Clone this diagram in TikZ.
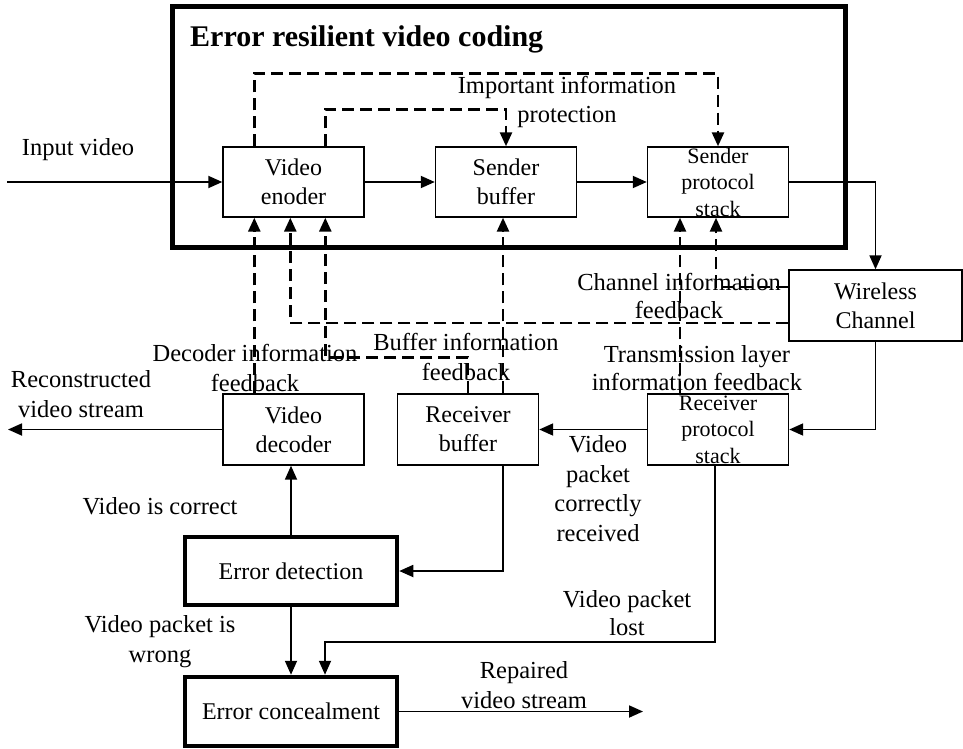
\documentclass[tikz,border=0pt]{standalone}
\usepackage{fontspec}
\setmainfont{Liberation Serif}
\usetikzlibrary{arrows.meta}

\tikzset{
  box/.style={draw, line width=1.4pt, minimum width=141pt, minimum height=70pt,
    inner sep=0pt, align=center, font=\fontsize{24}{29}\selectfont},
  stackbox/.style={box, font=\fontsize{22}{26.5}\selectfont},
  bigbox/.style={box, line width=4.5pt, minimum width=212pt, minimum height=68pt},
  lbl/.style={align=center, anchor=base, inner sep=0pt, font=\fontsize{24.5}{29.5}\selectfont},
  arr/.style={line width=1.8pt, -{Triangle[length=14pt,width=12pt]}},
  fb/.style={line width=2.6pt, dash pattern=on 12pt off 6pt, -{Triangle[length=14pt,width=12pt]}},
}

\begin{document}
\begin{tikzpicture}[x=1pt,y=-1pt]
% page size and background
\useasboundingbox (0,0) rectangle (963,749);
\fill[white] (0,0) rectangle (963,749);

% frame of the coding side
\node[draw, line width=5pt, minimum width=673pt, minimum height=240pt, inner sep=0pt] (erc) at (508.5,127) {};
\node[anchor=base west, inner sep=0pt, font=\bfseries\fontsize{30}{36}\selectfont] (title) at (190,47) {Error resilient video coding};

% sender boxes
\node[box] (enc) at (293.5,182) {Video\\enoder};
\node[box] (sbuf) at (506,182) {Sender\\buffer};
\node[stackbox] (sps) at (718,182) {Sender\\protocol\\stack};

% channel
\node[box, minimum width=173pt, minimum height=71pt] (wch) at (875.5,305.5) {Wireless\\Channel};

% receiver boxes
\node[stackbox, minimum height=71pt] (rps) at (718,429.5) {Receiver\\protocol\\stack};
\node[box, minimum height=71pt] (rbuf) at (468,429.5) {Receiver\\buffer};
\node[box, minimum height=71pt] (dec) at (293.5,429.5) {Video\\decoder};
\node[bigbox] (det) at (291,571) {Error detection};
\node[bigbox, minimum height=69pt] (con) at (291,711.5) {Error concealment};

% free ends
\coordinate (in) at (7,182);
\coordinate (out) at (8,429.5);
\coordinate (lost) at (325,642);
\coordinate (rep) at (643,711.5);

% data path
\draw[arr] (in) -- (enc);
\draw[arr] (enc) -- (sbuf);
\draw[arr] (sbuf) -- (sps);
\draw[arr] (sps.east) -| (wch.north);
\draw[arr] (wch.south) |- (rps.east);
\draw[arr] (rps) -- (rbuf);
\draw[arr] ([xshift=35]rbuf.south) |- (det.east);
\draw[arr] (dec) -- (out);
\draw[arr] (det.north) -- (det.north |- dec.south);
\draw[arr] (det) -- (con);
\draw[arr] ([xshift=-3]rps.south) |- (lost) -- (lost |- con.north);
\draw[arr] (con) -- (rep);

% important information protection
\draw[fb] ([xshift=32]enc.north west) |- ([yshift=73]sps.north) -- (sps.north);
\draw[fb] ([xshift=103]enc.north west) |- ([yshift=37]sbuf.north) -- (sbuf.north);

% feedback paths
\draw[fb] ([xshift=32]dec.north west) -- ([xshift=32]enc.south west);
\draw[fb] (rbuf.north) -- ++(0,-36) -| ([xshift=103]enc.south west);
\draw[fb] ([xshift=35]rbuf.north) -- ([xshift=35]rbuf.north |- sbuf.south);
\draw[fb] ([yshift=-17.5]wch.west) -| ([xshift=68]enc.south west);
\draw[fb] ([yshift=18.5]wch.west) -| ([xshift=-2]sps.south);
\draw[fb] ([xshift=-38]rps.north) -- ([xshift=-38]sps.south);

% labels (base = last line)
\node[lbl] (tin) at (78,155) {Input video};
\node[lbl] (timp) at (567,123) {Important information\\protection};
\node[lbl, font=\fontsize{24.5}{28}\selectfont] (tchan) at (679,318) {Channel information\\feedback};
\node[lbl, font=\fontsize{24.5}{28}\selectfont] (ttrans) at (697,390) {Transmission layer\\information feedback};
\node[lbl] (tdec) at (255,391) {Decoder information\\feedback};
\node[lbl] (tbuf) at (466,380) {Buffer information\\feedback};
\node[lbl] (trec) at (81,417) {Reconstructed\\video stream};
\node[lbl] (tpkt) at (598,541) {Video\\packet\\correctly\\received};
\node[lbl] (tcorr) at (160,514) {Video is correct};
\node[lbl, font=\fontsize{24.5}{28}\selectfont] (tlost) at (627,635) {Video packet\\lost};
\node[lbl] (twrong) at (160,662) {Video packet is\\wrong};
\node[lbl] (trep) at (524,708) {Repaired\\video stream};

\end{tikzpicture}
\end{document}
